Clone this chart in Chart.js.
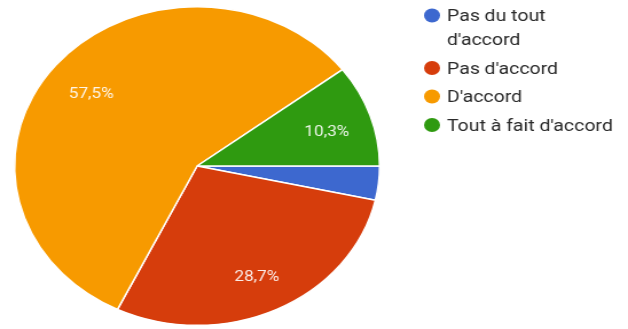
<!DOCTYPE html>
<html>
<head>
<meta charset="utf-8">
<script src="https://cdn.jsdelivr.net/npm/chart.js@4/dist/chart.umd.min.js"></script>
<style>
  html, body { margin: 0; padding: 0; background: #fff; overflow: hidden; }
  #chart { transform: scaleX(1.146); transform-origin: 0 0; }
</style>
</head>
<body>
<canvas id="chart" width="548" height="329"></canvas>
<script>
'use strict';

// responses per answer
const categories = ["Pas du tout d'accord", "Pas d'accord", "D'accord", "Tout à fait d'accord"];
const legend_lines = [["Pas du tout", "d'accord"], ["Pas d'accord"], ["D'accord"], ["Tout à fait d'accord"]];
const counts = [3, 25, 50, 9];
const colors = ['#3d68cf', '#d63d0c', '#f79a00', '#2f9a10'];

function percent_text(value, total){
    return (value / total * 100).toFixed(1).replace('.', ',') + '%';
}

// percentages written inside the slices
const slice_labels = {
    id: 'slice_labels',
    afterDatasetsDraw: function(chart){
        const ctx = chart.ctx;
        const data = chart.data.datasets[0].data;
        const total = data.reduce((a, b) => a + b, 0);
        const meta = chart.getDatasetMeta(0);
        ctx.save();
        ctx.font = '15px Roboto';
        ctx.fillStyle = 'rgba(255,255,255,0.9)';
        ctx.textAlign = 'center';
        ctx.textBaseline = 'middle';
        meta.data.forEach(function(arc, i){
            if( data[i] / total < 0.05 ) return;
            const p = arc.getProps(['x', 'y', 'startAngle', 'endAngle', 'outerRadius'], true);
            const mid = (p.startAngle + p.endAngle) / 2;
            const r = p.outerRadius * 0.75;
            ctx.fillText(percent_text(data[i], total), p.x + Math.cos(mid) * r, p.y + Math.sin(mid) * r + 4);
        });
        ctx.restore();
    }
};

// legend on the right, first entry wraps on two lines
const side_legend = {
    id: 'side_legend',
    afterDraw: function(chart){
        const ctx = chart.ctx;
        const bg = chart.data.datasets[0].backgroundColor;
        ctx.save();
        ctx.font = '17px Roboto';
        ctx.textAlign = 'left';
        ctx.textBaseline = 'alphabetic';
        var baseline = 21;
        legend_lines.forEach(function(lines, i){
            ctx.fillStyle = bg[i];
            ctx.beginPath();
            ctx.arc(377, baseline - 5.5, 7, 0, Math.PI * 2);
            ctx.fill();
            ctx.fillStyle = '#2a2a2a';
            lines.forEach(function(line, j){
                ctx.fillText(line, 390, baseline + j * 24);
            });
            baseline += (lines.length - 1) * 24 + 28.5;
        });
        ctx.restore();
    }
};

const chart = new Chart(document.getElementById('chart').getContext('2d'), {
    type: 'pie',
    data: {
        labels: categories,
        datasets: [{
            data: counts,
            backgroundColor: colors,
            borderColor: '#fff',
            borderWidth: 1.5,
        }],
    },
    options: {
        responsive: false,
        animation: false,
        devicePixelRatio: 1,
        rotation: 90,
        layout: {
            padding: { left: 12, right: 216, top: 6, bottom: 3 },
        },
        plugins: {
            legend: { display: false },
            tooltip: { enabled: false },
        },
    },
    plugins: [slice_labels, side_legend],
});
</script>
</body>
</html>
